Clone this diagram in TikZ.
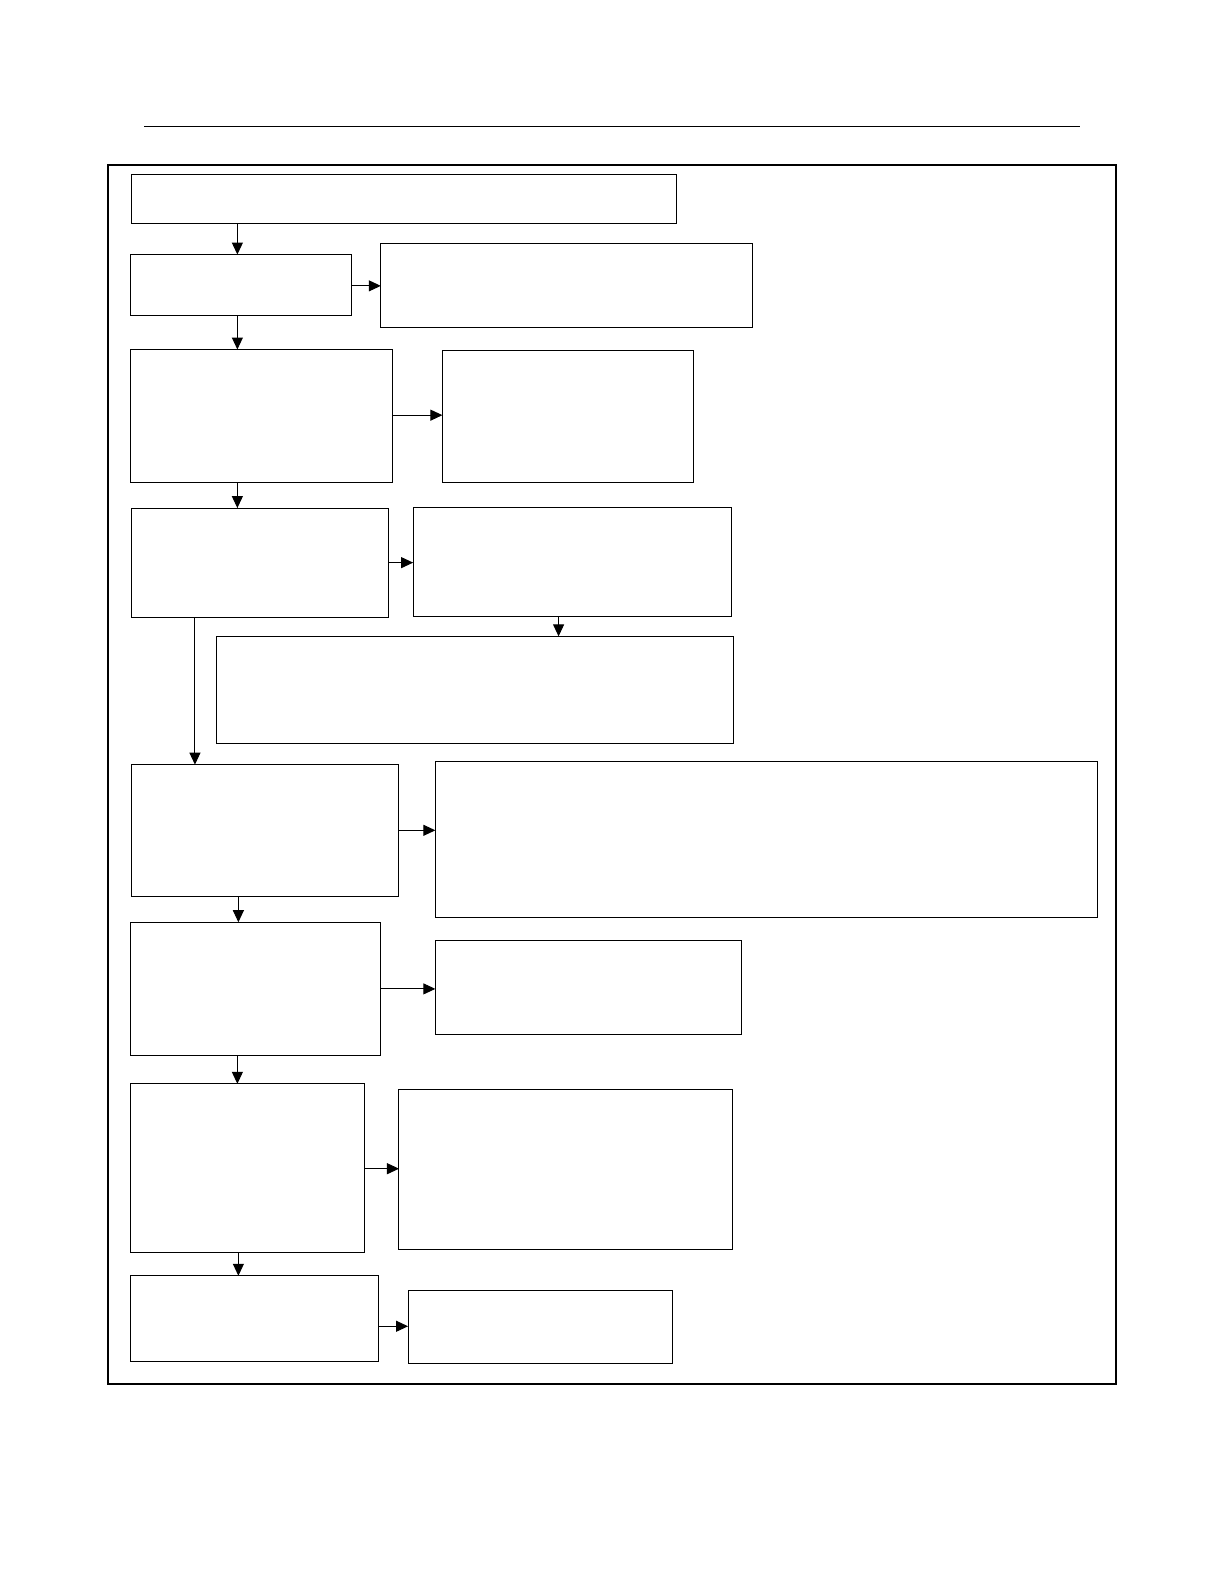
\documentclass[tikz,border=0pt]{standalone}
\usetikzlibrary{arrows.meta,fit}
\tikzset{
  box/.style={draw=black, line width=0.5bp, inner sep=0pt, outer sep=0pt, rectangle},
  arr/.style={draw=black, line width=0.5bp, -{Triangle[length=6bp,width=5.5bp]}}
}
\begin{document}
\begin{tikzpicture}[x=0.50505bp,y=-0.50505bp]
\useasboundingbox (0,0) rectangle (1211.88,1568.16);
% top rule and outer frame
\coordinate (rl) at (143,125);
\coordinate (rr) at (1069,125);
\draw[line width=0.45bp] (rl) -- (rr);
\node[draw=black, line width=1bp, inner sep=0pt, outer sep=0pt, fit={(107,163) (1105,1370)}] (frame) {};
% boxes
\node[box, fit={(130,173) (670,221)}] (b1) {};
\node[box, fit={(129,252) (348,312)}] (b2) {};
\node[box, fit={(377,241) (745,324)}] (b2r) {};
\node[box, fit={(129,346) (389,478)}] (b3) {};
\node[box, fit={(438,347) (687,478)}] (b3r) {};
\node[box, fit={(130,503) (385,611)}] (b4) {};
\node[box, fit={(409,502) (724,610)}] (b4r) {};
\node[box, fit={(214,630) (726,736)}] (b4b) {};
\node[box, fit={(130,757) (395,888)}] (b5) {};
\node[box, fit={(431,754) (1087,908)}] (b5r) {};
\node[box, fit={(129,913) (377,1045)}] (b6) {};
\node[box, fit={(431,931) (734,1024)}] (b6r) {};
\node[box, fit={(129,1073) (361,1240)}] (b7) {};
\node[box, fit={(395,1079) (725,1237)}] (b7r) {};
\node[box, fit={(129,1263) (375,1348)}] (b8) {};
\node[box, fit={(404,1278) (666,1350)}] (b8r) {};
% guide coordinates for connector positions
\coordinate (xa) at (235,0);
\coordinate (xb) at (236,0);
\coordinate (xc) at (193,0);
\coordinate (xd) at (553,0);
\coordinate (y2) at (0,283);
\coordinate (y3) at (0,411);
\coordinate (y4) at (0,557);
\coordinate (y5) at (0,822);
\coordinate (y6) at (0,979);
\coordinate (y7) at (0,1157);
\coordinate (y8) at (0,1313);
% vertical connectors
\draw[arr] (b1.south -| xa) -- (b2.north -| xa);
\draw[arr] (b2.south -| xa) -- (b3.north -| xa);
\draw[arr] (b3.south -| xa) -- (b4.north -| xa);
\draw[arr] (b4r.south -| xd) -- (b4b.north -| xd);
\draw[arr] (b4.south -| xc) -- (b5.north -| xc);
\draw[arr] (b5.south -| xb) -- (b6.north -| xb);
\draw[arr] (b6.south -| xa) -- (b7.north -| xa);
\draw[arr] (b7.south -| xb) -- (b8.north -| xb);
% horizontal connectors
\draw[arr] (b2.east |- y2) -- (b2r.west |- y2);
\draw[arr] (b3.east |- y3) -- (b3r.west |- y3);
\draw[arr] (b4.east |- y4) -- (b4r.west |- y4);
\draw[arr] (b5.east |- y5) -- (b5r.west |- y5);
\draw[arr] (b6.east |- y6) -- (b6r.west |- y6);
\draw[arr] (b7.east |- y7) -- (b7r.west |- y7);
\draw[arr] (b8.east |- y8) -- (b8r.west |- y8);
\end{tikzpicture}
\end{document}
